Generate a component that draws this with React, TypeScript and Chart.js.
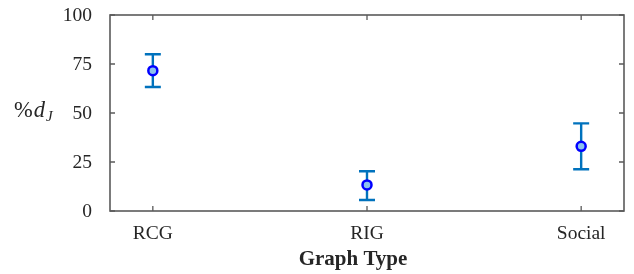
import React, { useEffect, useRef } from "react";
import { Chart, registerables } from "chart.js";

Chart.register(...registerables);

const categories = ["RCG", "RIG", "Social"];
const means = [71.6, 13.3, 33.0];
const lowerBounds = [63.3, 5.6, 21.3];
const upperBounds = [80.0, 20.3, 44.7];
const yTicks = [0, 25, 50, 75, 100];

const AXIS_COLOR = "#5a5a5a";
const ERR_COLOR = "#0072BD";
const SERIF = "'Liberation Serif', 'Times New Roman', serif";

const drawPlugin = {
  id: "matlabStyle",
  beforeDatasetsDraw(chart: any) {
    const ctx = chart.ctx;
    const xs = chart.scales.x;
    const ys = chart.scales.y;
    ctx.save();
    ctx.strokeStyle = ERR_COLOR;
    ctx.lineWidth = 2.4;
    categories.forEach((_, i) => {
      const x = xs.getPixelForValue(i + 1);
      const yl = ys.getPixelForValue(lowerBounds[i]);
      const yu = ys.getPixelForValue(upperBounds[i]);
      ctx.beginPath();
      ctx.moveTo(x, yl);
      ctx.lineTo(x, yu);
      ctx.moveTo(x - 8, yl);
      ctx.lineTo(x + 8, yl);
      ctx.moveTo(x - 8, yu);
      ctx.lineTo(x + 8, yu);
      ctx.stroke();
    });
    ctx.restore();
  },
  afterDraw(chart: any) {
    const ctx = chart.ctx;
    const xs = chart.scales.x;
    const ys = chart.scales.y;
    const a = chart.chartArea;
    ctx.save();
    ctx.strokeStyle = AXIS_COLOR;
    ctx.lineWidth = 1.6;
    ctx.strokeRect(a.left, a.top, a.right - a.left, a.bottom - a.top);
    ctx.lineWidth = 1.3;
    ctx.beginPath();
    yTicks.forEach((v) => {
      const y = ys.getPixelForValue(v);
      ctx.moveTo(a.left, y);
      ctx.lineTo(a.left + 5, y);
      ctx.moveTo(a.right, y);
      ctx.lineTo(a.right - 5, y);
    });
    categories.forEach((_, i) => {
      const x = xs.getPixelForValue(i + 1);
      ctx.moveTo(x, a.bottom);
      ctx.lineTo(x, a.bottom - 5);
      ctx.moveTo(x, a.top);
      ctx.lineTo(x, a.top + 5);
    });
    ctx.stroke();

    ctx.fillStyle = "#262626";
    ctx.font = `19.5px ${SERIF}`;
    ctx.textAlign = "right";
    ctx.textBaseline = "middle";
    yTicks.forEach((v) => {
      ctx.fillText(String(v), a.left - 18, ys.getPixelForValue(v) + 1);
    });
    ctx.textAlign = "center";
    ctx.textBaseline = "alphabetic";
    categories.forEach((c, i) => {
      ctx.fillText(c, xs.getPixelForValue(i + 1), a.bottom + 28);
    });

    ctx.font = `bold 21px ${SERIF}`;
    ctx.fillText("Graph Type", 353, 265);

    ctx.textAlign = "left";
    ctx.font = `22.5px ${SERIF}`;
    ctx.fillText("%", 14, 117);
    const pw = ctx.measureText("%").width;
    ctx.font = `italic 22.5px ${SERIF}`;
    ctx.fillText("d", 14 + pw + 1, 117);
    const dw = ctx.measureText("d").width;
    ctx.font = `italic 15px ${SERIF}`;
    ctx.fillText("J", 14 + pw + 1 + dw + 1, 121);
    ctx.restore();
  },
};

export default function App() {
  const ref = useRef<HTMLCanvasElement>(null);
  useEffect(() => {
    document.body.style.margin = "0";
    const canvas = ref.current!;
    const chart = new Chart(canvas, {
      type: "scatter",
      data: {
        datasets: [
          {
            data: means.map((m, i) => ({ x: i + 1, y: m })),
            pointRadius: 4.5,
            pointBorderWidth: 2.5,
            pointBorderColor: "#0000FF",
            pointBackgroundColor: "#8cc2ee",
            showLine: false,
          },
        ],
      },
      options: {
        responsive: false,
        animation: false,
        layout: { padding: { left: 110, top: 15, right: 10, bottom: 63 } },
        plugins: { legend: { display: false }, tooltip: { enabled: false } },
        scales: {
          x: { type: "linear", min: 0.8, max: 3.2, display: false },
          y: { type: "linear", min: 0, max: 100, display: false },
        },
      },
      plugins: [drawPlugin],
    });
    return () => chart.destroy();
  }, []);
  return (
    <div style={{ width: 634, height: 274 }}>
      <canvas ref={ref} width={634} height={274} style={{ display: "block" }} />
    </div>
  );
}
